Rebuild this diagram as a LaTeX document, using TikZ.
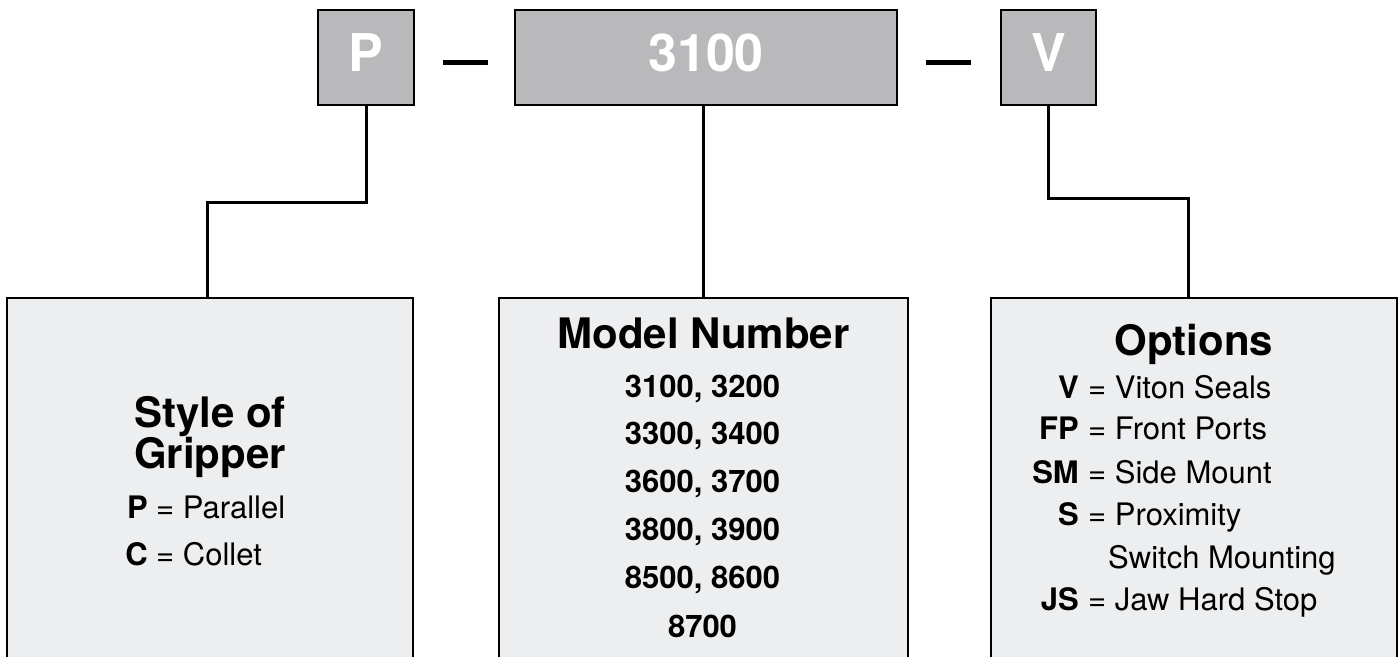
\documentclass[tikz,border=0pt]{standalone}
\usepackage{fontspec}
\setmainfont{TeX Gyre Heros}
\usetikzlibrary{positioning}
\definecolor{tagcinza}{RGB}{185,185,187}
\definecolor{boxcinza}{RGB}{237,238,240}
\newcommand{\tagfont}{\fontsize{52}{60}\selectfont\bfseries}
\newcommand{\headfont}{\fontsize{42}{48}\selectfont\bfseries}
\newcommand{\itemfont}{\fontsize{31}{36}\selectfont}

\begin{document}
\begin{tikzpicture}[x=1pt, y=-1pt,
    tag/.style={draw, line width=1.6pt, fill=tagcinza, text=white, font=\tagfont, minimum height=95pt, text depth=9pt, inner sep=0pt},
    panel/.style={draw, line width=1.6pt, fill=boxcinza, anchor=north, minimum height=380pt, inner sep=0pt},
    dashbar/.style={fill=black, minimum width=45pt, minimum height=5pt, inner sep=0pt},
    link/.style={line width=3pt},
    txt/.style={inner sep=0pt, anchor=base}]
        \clip (0,0) rectangle (1399,656);

        % Part number tags
        \node[tag, minimum width=96pt] (pbox) at (366,57.5) {P};
        \node[tag, minimum width=382pt] (mbox) at (706,57.5) {3100};
        \node[tag, minimum width=95pt] (vbox) at (1048.5,57.5) {V};
        \node[dashbar] (dash1) at (465.5,62) {};
        \node[dashbar] (dash2) at (948,62) {};

        % Panels
        \node[panel, minimum width=406pt] (gripbox) at (210,297) {};
        \node[panel, minimum width=409pt] (modbox) at (703.5,297) {};
        \node[panel, minimum width=406pt] (optbox) at (1194,297) {};

        % Connections
        \coordinate (lbend) at (207,202);
        \coordinate (rbend) at (1188,198);
        \draw[link] (pbox.south) |- (lbend) -- (lbend |- gripbox.north);
        \draw[link] (mbox.south -| modbox.north) -- (modbox.north);
        \draw[link] (vbox.south) |- (rbend) -- (rbend |- optbox.north);

        % Style of gripper
        \node[txt, font=\headfont] (griptitle1) at (210,427) {Style of};
        \node[txt, font=\headfont] (griptitle2) at (210,468) {Gripper};
        \node[txt, anchor=base east, font=\itemfont\bfseries] (gripkey1) at (148,518) {P};
        \node[txt, anchor=base west, font=\itemfont] (gripval1) at (156,518) {= Parallel};
        \node[txt, anchor=base east, font=\itemfont\bfseries] (gripkey2) at (148,565) {C};
        \node[txt, anchor=base west, font=\itemfont] (gripval2) at (156,565) {= Collet};

        % Model number
        \node[txt, font=\headfont] (modtitle) at (703.5,348) {Model Number};
        \foreach \nums/\yy [count=\i] in {{3100, 3200}/397, {3300, 3400}/444, {3600, 3700}/492, {3800, 3900}/540, {8500, 8600}/588, {8700}/637}
            \node[txt, font=\itemfont\bfseries] (modnum\i) at (702.5,\yy) {\nums};

        % Options
        \node[txt, font=\headfont] (opttitle) at (1194,355) {Options};
        \foreach \k/\v/\yy [count=\i] in {V/Viton Seals/398, FP/Front Ports/439, SM/Side Mount/483, S/Proximity/525, JS/Jaw Hard Stop/610} {
            \node[txt, anchor=base east, font=\itemfont\bfseries] (optkey\i) at (1079,\yy) {\k};
            \node[txt, anchor=base west, font=\itemfont] (optval\i) at (1088,\yy) {= \v};
        }
        \node[txt, anchor=base west, font=\itemfont] (optval6) at (1108,568) {Switch Mounting};

    \end{tikzpicture}
\end{document}
